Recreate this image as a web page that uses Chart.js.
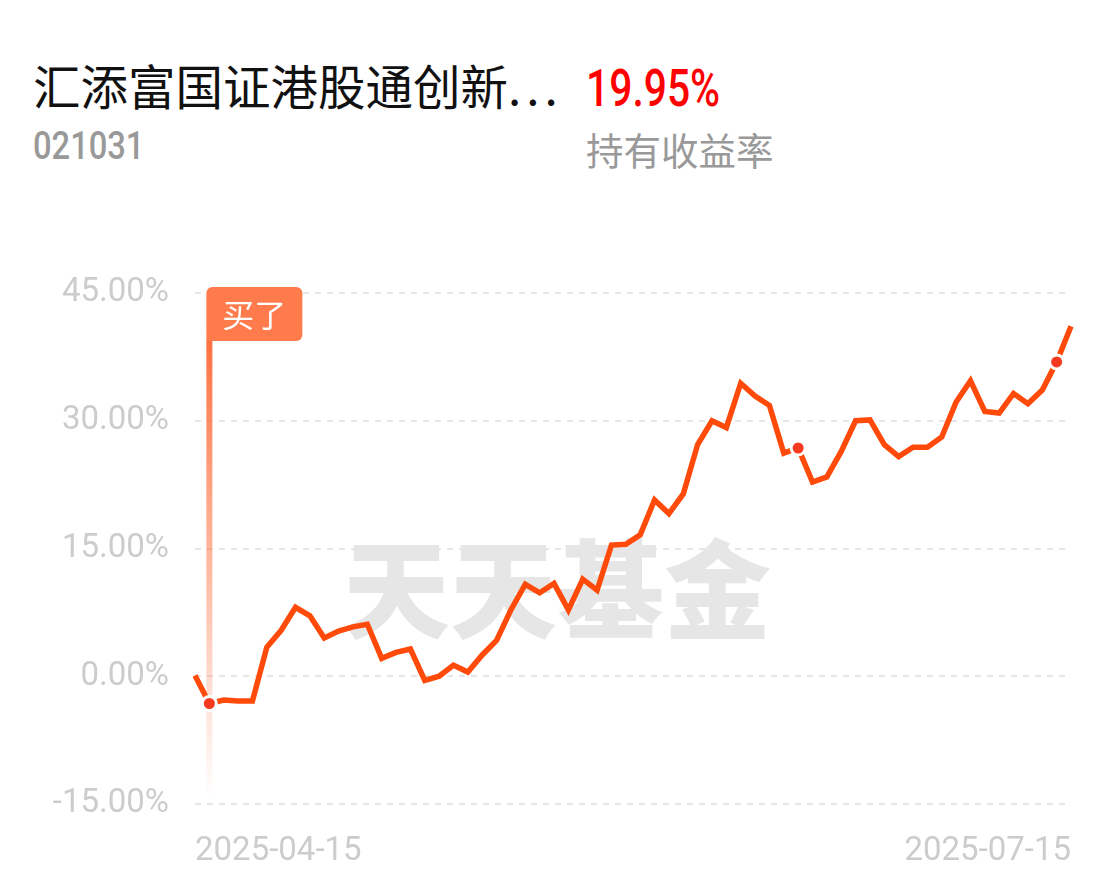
<!DOCTYPE html>
<html>
<head>
<meta charset="utf-8">
<script src="https://cdn.jsdelivr.net/npm/chart.js@4.4.1/dist/chart.umd.min.js"></script>
<style>
  html, body { margin: 0; padding: 0; background: #fff; }
  body { width: 1116px; height: 881px; position: relative; overflow: hidden; font-family: "Noto Sans CJK SC", Roboto, sans-serif; }
  .abs { position: absolute; white-space: nowrap; line-height: 1; }
  #title { left: 33px; top: 61px; font-size: 47.5px; color: #111; }
  #title .dots { letter-spacing: 5px; }
  #rate { left: 586px; top: 63px; font-size: 51px; color: #ff0000; font-family: Roboto, sans-serif; font-weight: 500; transform: scaleX(0.8); transform-origin: left top; }
  #code { left: 33px; top: 127px; font-size: 38px; color: #999; font-family: Roboto, sans-serif; font-weight: 500; transform: scaleX(0.86); transform-origin: left top; }
  #rateLabel { left: 586px; top: 130px; font-size: 37.5px; color: #999; }
  #wrap { position: absolute; left: 0; top: 0; width: 1116px; height: 881px; }
</style>
</head>
<body>
<div class="abs" id="title">汇添富国证港股通创新<span class="dots">...</span></div>
<div class="abs" id="rate">19.95%</div>
<div class="abs" id="code">021031</div>
<div class="abs" id="rateLabel">持有收益率</div>
<div id="wrap"><canvas id="line-chart"></canvas></div>

<script>
// holding return (%) per trading day
const returns = [
  0.1, -3.2, -2.8, -2.9, -2.9, 3.4, 5.4, 8.1, 7.1, 4.5,
  5.3, 5.8, 6.1, 2.1, 2.8, 3.2, -0.5, 0.0, 1.3, 0.5,
  2.5, 4.2, 7.8, 10.8, 9.8, 10.9, 7.8, 11.4, 10.1, 15.4,
  15.5, 16.6, 20.7, 19.1, 21.4, 27.2, 30.0, 29.2, 34.4, 32.9,
  31.8, 26.2, 26.8, 22.8, 23.4, 26.4, 30.0, 30.1, 27.2, 25.8,
  26.9, 26.9, 28.1, 32.2, 34.7, 31.1, 30.9, 33.2, 32.0, 33.6,
  36.9, 41.1
];
const markedPoints = [1, 42, 60];
const buyIndex = 1;
const yTicks = [45, 30, 15, 0, -15];
const firstDay = "2025-04-15";
const lastDay = "2025-07-15";
const holidays = ["2025-05-01", "2025-05-02", "2025-05-05", "2025-06-02"];

// trading days between first and last
const dates = [];
for (let d = new Date(firstDay + "T00:00:00Z"); d <= new Date(lastDay + "T00:00:00Z"); d.setUTCDate(d.getUTCDate() + 1)) {
  const s = d.toISOString().slice(0, 10);
  const wd = d.getUTCDay();
  if (wd !== 0 && wd !== 6 && !holidays.includes(s)) dates.push(s);
}

const lineColor = "#ff4a0a";

const decorations = {
  id: "decorations",
  beforeDatasetsDraw(chart) {
    const { ctx, chartArea, scales } = chart;
    // watermark
    ctx.save();
    ctx.fillStyle = "#e6e6e6";
    ctx.font = "900 107px 'Noto Sans CJK SC'";
    ctx.textAlign = "center";
    ctx.textBaseline = "middle";
    ctx.fillText("天天基金", chartArea.left + 362, chartArea.top + 296);
    ctx.restore();

    // buy marker stem
    const x = scales.x.getPixelForValue(buyIndex);
    const top = chartArea.top + 48;
    const bottom = chartArea.bottom - 6;
    const g = ctx.createLinearGradient(0, top, 0, bottom);
    g.addColorStop(0, "rgba(255,112,64,1)");
    g.addColorStop(0.5, "rgba(255,140,100,0.6)");
    g.addColorStop(1, "rgba(255,140,100,0)");
    ctx.save();
    ctx.fillStyle = g;
    ctx.fillRect(x - 3, top, 6, bottom - top);
    ctx.restore();
  },
  afterDraw(chart) {
    const { ctx, chartArea, scales } = chart;
    const x = scales.x.getPixelForValue(buyIndex) - 3;
    const y = chartArea.top - 6;
    const w = 96, h = 54, r = 6;
    ctx.save();
    ctx.fillStyle = "#ff7b4b";
    ctx.beginPath();
    ctx.roundRect(x, y, w, h, [r, r, r, 0]);
    ctx.fill();
    ctx.fillStyle = "#fff";
    ctx.font = "32px 'Noto Sans CJK SC'";
    ctx.textAlign = "center";
    ctx.textBaseline = "middle";
    ctx.fillText("买了", x + w / 2, y + h / 2 + 1);
    ctx.restore();
  }
};

new Chart(document.getElementById("line-chart"), {
  type: "line",
  data: {
    labels: dates,
    datasets: [{
      data: returns,
      borderColor: lineColor,
      borderWidth: 5.5,
      borderJoinStyle: "miter",
      tension: 0,
      fill: false,
      pointRadius: (c) => markedPoints.includes(c.dataIndex) ? 7 : 0,
      pointBackgroundColor: "#f53a1f",
      pointBorderColor: "#fff",
      pointBorderWidth: 3,
    }],
  },
  options: {
    responsive: true,
    maintainAspectRatio: false,
    animation: false,
    events: [],
    layout: { padding: { top: 293, right: 45, left: 0, bottom: 0 } },
    plugins: { legend: { display: false }, tooltip: { enabled: false } },
    scales: {
      x: {
        offset: false,
        border: { display: false },
        grid: { display: false, drawTicks: false },
        afterFit: (s) => { s.height = 77; },
        ticks: {
          autoSkip: false,
          maxRotation: 0,
          align: "inner",
          padding: 28,
          color: "#cccccc",
          font: { family: "Roboto", size: 33 },
          callback: function (v, i, all) {
            return (i === 0 || i === all.length - 1) ? this.getLabelForValue(v) : null;
          },
        },
      },
      y: {
        min: -15,
        max: 45,
        afterFit: (s) => { s.width = 195; },
        afterBuildTicks: (s) => { s.ticks = yTicks.map((v) => ({ value: v })); },
        grid: {
          drawTicks: false,
          color: "#e6e6e6",
          lineWidth: 2,
        },
        border: { display: false, dash: [6, 6] },
        ticks: {
          padding: 26,
          color: "#cccccc",
          font: { family: "Roboto", size: 33 },
          callback: (v) => v.toFixed(2) + "%",
        },
      },
    },
  },
  plugins: [decorations],
});
</script>
</body>
</html>
